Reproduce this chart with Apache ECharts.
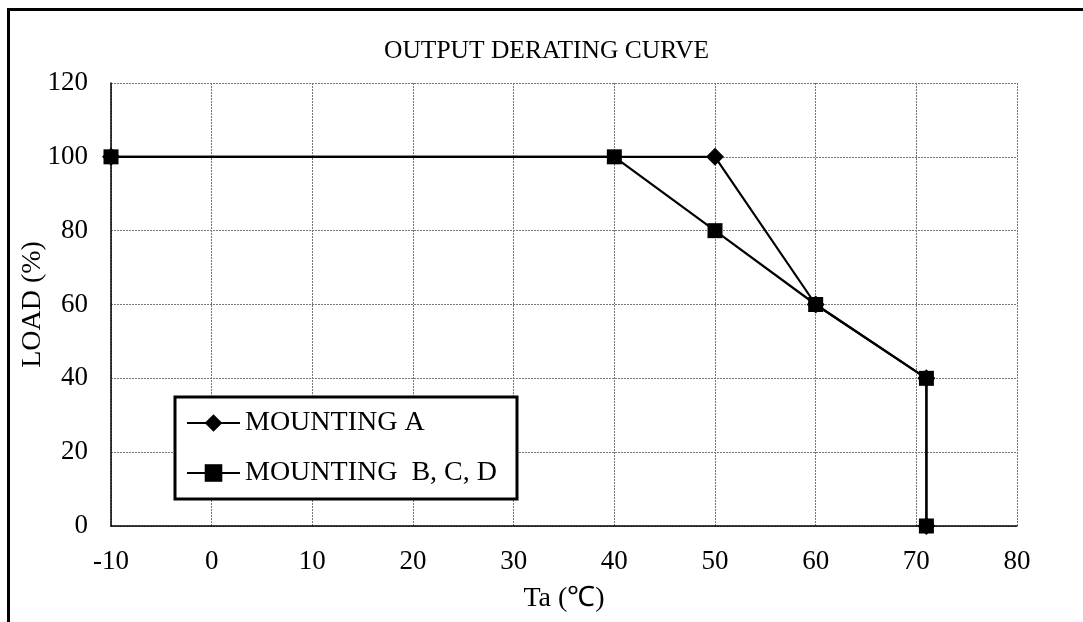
<!DOCTYPE html>
<html>
<head>
<meta charset="utf-8">
<script src="https://cdn.jsdelivr.net/npm/echarts@6/dist/echarts.min.js"></script>
<style>
html,body{margin:0;padding:0;background:#fff;}
#frame{position:absolute;left:7px;top:8px;width:1076px;height:614px;border-top:3px solid #000;border-left:3px solid #000;box-sizing:border-box;}
#chart{position:absolute;left:0;top:0;width:1083px;height:622px;}
</style>
</head>
<body>
<div id="frame"></div>
<div id="chart"></div>
<script>
const titleText = "OUTPUT DERATING CURVE";
const xName = "Ta (℃)";
const yName = "LOAD (%)";
const seriesNames = ["MOUNTING A", "MOUNTING  B, C, D"];
const mountingA = [[-10, 100], [50, 100], [60, 60], [71, 40], [71, 0]];
const mountingBCD = [[-10, 100], [40, 100], [50, 80], [60, 60], [71, 40], [71, 0]];
const xMin = -10, xMax = 80, xStep = 10;
const yMin = 0, yMax = 120, yStep = 20;

const font = "'Liberation Serif', 'Times New Roman', serif";
const chart = echarts.init(document.getElementById('chart'));
chart.setOption({
  animation: false,
  backgroundColor: 'transparent',
  title: {
    text: titleText, left: 379, top: 33,
    textStyle: {fontFamily: font, fontSize: 25.5, fontWeight: 'normal', color: '#000'}
  },
  grid: {left: 111, right: 66, top: 83, bottom: 96, show: false},
  legend: {
    orient: 'vertical', left: 175, top: 397,
    borderColor: '#000', borderWidth: 3, padding: [12, 20, 12, 11],
    itemWidth: 53, itemHeight: 22, itemGap: 22,
    textStyle: {fontFamily: font, fontSize: 28, color: '#000'},
    data: seriesNames,
    backgroundColor: '#fff'
  },
  xAxis: {
    type: 'value', min: xMin, max: xMax, interval: xStep,
    name: xName, nameLocation: 'middle', nameGap: 59,
    nameTextStyle: {fontFamily: font, fontSize: 28, color: '#000'},
    axisLine: {show: true, onZero: false, lineStyle: {color: '#000', width: 1.5}},
    axisTick: {show: false},
    axisLabel: {fontFamily: font, fontSize: 27, color: '#000', margin: 22},
    splitLine: {show: true, lineStyle: {color: '#777', width: 1, type: [2, 1]}}
  },
  yAxis: {
    type: 'value', min: yMin, max: yMax, interval: yStep,
    name: yName, nameLocation: 'middle', nameGap: 64, nameMoveOverlap: false,
    nameTextStyle: {fontFamily: font, fontSize: 28, color: '#000'},
    axisLine: {show: true, onZero: false, lineStyle: {color: '#000', width: 1.5}},
    axisTick: {show: false},
    axisLabel: {fontFamily: font, fontSize: 27, color: '#000', margin: 23},
    splitLine: {show: true, lineStyle: {color: '#777', width: 1, type: [2, 1]}}
  },
  series: [
    {
      name: seriesNames[0], type: 'line', data: mountingA,
      symbol: 'diamond', symbolSize: 18,
      lineStyle: {color: '#000', width: 2.2},
      itemStyle: {color: '#000'},
      z: 2
    },
    {
      name: seriesNames[1], type: 'line', data: mountingBCD,
      symbol: 'rect', symbolSize: 15,
      lineStyle: {color: '#000', width: 2.2},
      itemStyle: {color: '#000'},
      z: 3
    }
  ]
});
</script>
</body>
</html>
